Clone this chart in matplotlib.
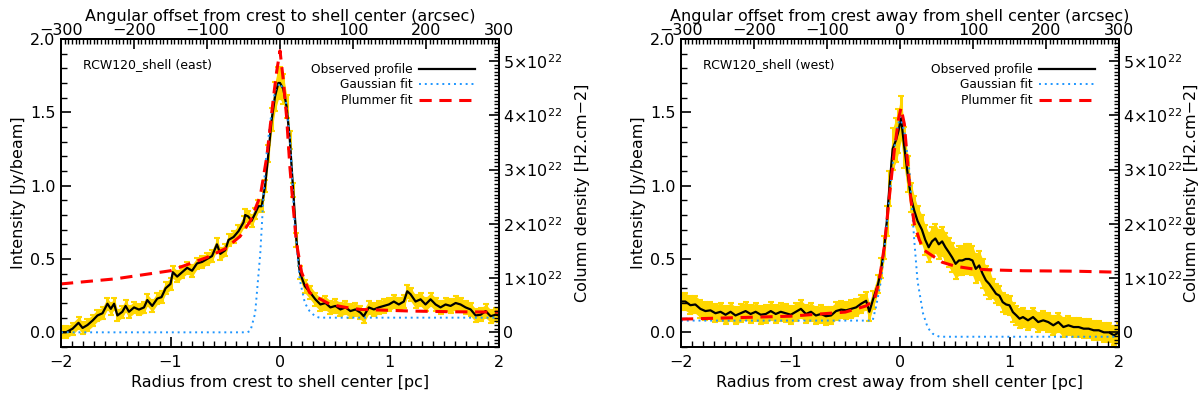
import numpy as np
import matplotlib
matplotlib.use("Agg")
import matplotlib.pyplot as plt
from matplotlib.ticker import MultipleLocator, FixedLocator, FixedFormatter, AutoMinorLocator

# ---- data (radius in pc, intensity in Jy/beam) ----
# east side: from crest to shell center
obs_x_east = [-2.00, -1.955, -1.894, -1.84, -1.803, -1.758, -1.712, -1.667, -1.621, -1.576,
              -1.545, -1.515, -1.485, -1.44, -1.41, -1.379, -1.333, -1.288, -1.242, -1.212,
              -1.167, -1.121, -1.082, -1.045, -1.00, -0.979, -0.939, -0.894, -0.848, -0.803,
              -0.758, -0.712, -0.667, -0.621, -0.576, -0.545, -0.50, -0.47, -0.424, -0.379,
              -0.333, -0.318, -0.29, -0.26, -0.227, -0.197, -0.167, -0.136, -0.106, -0.076,
              -0.045, -0.015, 0.00, 0.03, 0.06, 0.09, 0.12, 0.15, 0.18, 0.227,
              0.277, 0.323, 0.369, 0.415, 0.46, 0.506, 0.552, 0.598, 0.643, 0.689,
              0.735, 0.765, 0.811, 0.857, 0.902, 0.948, 0.994, 1.04, 1.085, 1.131,
              1.162, 1.192, 1.238, 1.284, 1.329, 1.375, 1.421, 1.466, 1.512, 1.558,
              1.604, 1.649, 1.695, 1.741, 1.787, 1.832, 1.878, 1.924, 1.97, 2.00]
obs_y_east = [0.00, 0.00, 0.025, 0.065, 0.03, 0.05, 0.08, 0.115, 0.13, 0.195,
              0.16, 0.195, 0.115, 0.14, 0.18, 0.14, 0.17, 0.155, 0.17, 0.22,
              0.18, 0.23, 0.24, 0.30, 0.33, 0.41, 0.38, 0.41, 0.44, 0.42,
              0.47, 0.48, 0.50, 0.52, 0.60, 0.535, 0.56, 0.63, 0.65, 0.69,
              0.75, 0.80, 0.79, 0.76, 0.81, 0.86, 0.86, 1.00, 1.22, 1.45,
              1.61, 1.70, 1.70, 1.66, 1.54, 1.31, 0.97, 0.63, 0.41, 0.315,
              0.27, 0.225, 0.19, 0.20, 0.17, 0.18, 0.156, 0.17, 0.145, 0.156,
              0.134, 0.11, 0.17, 0.156, 0.17, 0.18, 0.19, 0.21, 0.19, 0.21,
              0.28, 0.26, 0.21, 0.225, 0.19, 0.225, 0.19, 0.17, 0.19, 0.18,
              0.20, 0.19, 0.17, 0.156, 0.115, 0.12, 0.145, 0.11, 0.12, 0.115]
err_east = [0.04] * 48 + [0.06, 0.08, 0.10, 0.11, 0.11, 0.10, 0.08, 0.06] + [0.045] * 44

gauss_x_east = [-2.0, -0.30, -0.27, -0.227, -0.18, -0.136, -0.09, -0.045, 0.0,
                0.045, 0.09, 0.136, 0.18, 0.227, 0.27, 0.32, 0.36, 2.0]
gauss_y_east = [0.0, 0.0, 0.01, 0.13, 0.54, 1.13, 1.43, 1.65, 1.70,
                1.63, 1.34, 0.72, 0.36, 0.20, 0.145, 0.11, 0.10, 0.10]

plum_x_east = [-2.0, -1.5, -1.0, -0.67, -0.5, -0.364, -0.27, -0.18, -0.12, -0.06, -0.03, 0.0,
               0.03, 0.06, 0.09, 0.12, 0.15, 0.197, 0.27, 0.36, 0.46, 0.6, 0.735, 1.0, 1.2, 1.6, 2.0]
plum_y_east = [0.33, 0.365, 0.42, 0.51, 0.57, 0.655, 0.76, 0.93, 1.20, 1.60, 1.78, 1.92,
               1.72, 1.47, 1.13, 0.86, 0.61, 0.41, 0.27, 0.23, 0.19, 0.17, 0.156, 0.15, 0.145, 0.14, 0.138]

# west side: from crest away from shell center
obs_x_west = [-2.00, -1.96, -1.914, -1.869, -1.823, -1.777, -1.731, -1.685, -1.639, -1.593,
              -1.547, -1.502, -1.456, -1.41, -1.364, -1.318, -1.272, -1.226, -1.18, -1.135,
              -1.089, -1.043, -0.997, -0.951, -0.905, -0.859, -0.813, -0.768, -0.722, -0.676,
              -0.63, -0.584, -0.538, -0.492, -0.446, -0.401, -0.355, -0.309, -0.28, -0.248,
              -0.20, -0.17, -0.144, -0.12, -0.098, -0.067, -0.037, -0.015, 0.009, 0.04,
              0.07, 0.10, 0.13, 0.16, 0.20, 0.231, 0.262, 0.292, 0.323, 0.354,
              0.385, 0.415, 0.446, 0.477, 0.508, 0.538, 0.569, 0.60, 0.631, 0.662,
              0.692, 0.723, 0.754, 0.785, 0.815, 0.846, 0.877, 0.908, 0.938, 0.969,
              1.00, 1.031, 1.062, 1.092, 1.123, 1.169, 1.215, 1.262, 1.308, 1.354,
              1.40, 1.446, 1.492, 1.538, 1.585, 1.631, 1.677, 1.723, 1.769, 1.815,
              1.862, 1.908, 1.954, 2.00]
obs_y_west = [0.21, 0.21, 0.185, 0.19, 0.16, 0.145, 0.15, 0.13, 0.14, 0.12,
              0.14, 0.115, 0.13, 0.145, 0.125, 0.14, 0.12, 0.125, 0.145, 0.125,
              0.14, 0.13, 0.12, 0.14, 0.16, 0.125, 0.14, 0.115, 0.125, 0.11,
              0.115, 0.145, 0.155, 0.15, 0.16, 0.17, 0.195, 0.215, 0.14, 0.22,
              0.33, 0.44, 0.58, 0.76, 0.98, 1.25, 1.31, 1.37, 1.46, 1.26,
              1.08, 0.92, 0.83, 0.76, 0.70, 0.63, 0.58, 0.62, 0.64, 0.60,
              0.62, 0.58, 0.546, 0.51, 0.467, 0.49, 0.49, 0.50, 0.50, 0.49,
              0.433, 0.456, 0.40, 0.354, 0.33, 0.297, 0.263, 0.25, 0.206, 0.19,
              0.184, 0.138, 0.116, 0.093, 0.104, 0.082, 0.104, 0.07, 0.082, 0.07,
              0.048, 0.07, 0.036, 0.048, 0.036, 0.036, 0.025, 0.025, 0.014, 0.014,
              0.0, 0.0, -0.02, 0.0]
err_west = ([0.06] * 40 + [0.06, 0.07, 0.08, 0.10, 0.12, 0.14, 0.15, 0.15, 0.15]
            + [0.14, 0.12, 0.10, 0.10, 0.10] + [0.10] * 21 + [0.065] * 29)

gauss_x_west = [-2.0, -0.25, -0.22, -0.174, -0.128, -0.083, -0.037, 0.0, 0.04,
                0.086, 0.13, 0.16, 0.21, 0.254, 0.30, 0.36, 2.0]
gauss_y_west = [0.08, 0.08, 0.17, 0.35, 0.67, 1.03, 1.35, 1.47, 1.37,
                1.10, 0.63, 0.35, 0.13, 0.03, -0.01, -0.03, -0.03]

plum_x_west = [-2.0, -1.0, -0.5, -0.31, -0.235, -0.19, -0.144, -0.098, -0.052, -0.012, 0.009,
               0.04, 0.07, 0.10, 0.13, 0.177, 0.22, 0.30, 0.385, 0.508, 0.66, 0.815, 1.12, 1.585, 2.0]
plum_y_west = [0.09, 0.11, 0.138, 0.18, 0.22, 0.35, 0.58, 0.92, 1.24, 1.46, 1.53,
               1.42, 1.15, 0.90, 0.74, 0.63, 0.56, 0.52, 0.478, 0.45, 0.433, 0.426, 0.42, 0.417, 0.41]

panels = [
    dict(obs_x=obs_x_east, obs_y=obs_y_east, err=err_east,
         gx=gauss_x_east, gy=gauss_y_east, px=plum_x_east, py=plum_y_east,
         name="RCW120_shell (east)",
         top="Angular offset from crest to shell center (arcsec)",
         bottom="Radius from crest to shell center [pc]"),
    dict(obs_x=obs_x_west, obs_y=obs_y_west, err=err_west,
         gx=gauss_x_west, gy=gauss_y_west, px=plum_x_west, py=plum_y_west,
         name="RCW120_shell (west)",
         top="Angular offset from crest away from shell center (arcsec)",
         bottom="Radius from crest away from shell center [pc]"),
]

ARCSEC_PER_PC = 150.0
JY_PER_1E22 = 0.37       # intensity corresponding to N(H2) = 1e22 cm^-2
arcsec_ticks = [-300, -200, -100, 0, 100, 200, 300]
cd_ticks = [0, 1, 2, 3, 4, 5]
cd_labels = ["0"] + [r"$%d{\times}10^{22}$" % v for v in cd_ticks[1:]]

TICK_FS = 11.5
LAB_FS = 11.5

plt.rcParams['font.family'] = ['DejaVu Sans']
plt.rcParams['axes.linewidth'] = 1.3

fig = plt.figure(figsize=(12, 3.98), dpi=100)
lefts = [61 / 1200, 681 / 1200]
right_pads = [9, 1]   # second panel's label sits at the figure edge

for left, rpad, p in zip(lefts, right_pads, panels):
    ax = fig.add_axes([left, 51 / 398, 438 / 1200, 308 / 398])

    x = np.array(p['obs_x'])
    y = np.array(p['obs_y'])
    e = np.array(p['err'])
    ax.fill_between(x, y - e, y + e, color='gold', lw=0, zorder=1)
    ax.errorbar(x, y, yerr=e, fmt='none', ecolor='gold', elinewidth=2.2,
                capsize=2, capthick=1.5, zorder=1)
    ax.plot(x, y, color='black', lw=1.6, zorder=3, label='Observed profile')
    ax.plot(p['gx'], p['gy'], color='#1e96ff', lw=1.4, ls=(0, (1, 2)), zorder=4,
            label='Gaussian fit')
    ax.plot(p['px'], p['py'], color='red', lw=2.2, ls=(0, (4, 2.5)), zorder=5,
            label='Plummer fit')

    ax.set_xlim(-2, 2)
    ax.set_ylim(-0.1, 2.0)
    ax.xaxis.set_major_locator(MultipleLocator(1))
    ax.xaxis.set_minor_locator(MultipleLocator(0.1))
    ax.yaxis.set_major_locator(MultipleLocator(0.5))
    ax.yaxis.set_minor_locator(MultipleLocator(0.1))
    ax.yaxis.set_major_formatter(matplotlib.ticker.FormatStrFormatter('%.1f'))
    ax.tick_params(which='both', direction='in', labelsize=TICK_FS, top=False, right=False)
    ax.tick_params(which='major', length=7, width=1.2)
    ax.tick_params(which='minor', length=4, width=1.0)
    ax.tick_params(axis='x', pad=6)
    ax.tick_params(axis='y', pad=4)
    ax.set_xlabel(p['bottom'], fontsize=LAB_FS, labelpad=3)
    ax.set_ylabel("Intensity [Jy/beam]", fontsize=LAB_FS, labelpad=3)

    # top axis in arcsec
    sec = ax.secondary_xaxis('top', functions=(lambda v: v * ARCSEC_PER_PC,
                                               lambda v: v / ARCSEC_PER_PC))
    sec.xaxis.set_major_locator(FixedLocator(arcsec_ticks))
    sec.xaxis.set_minor_locator(MultipleLocator(5))
    sec.tick_params(which='both', direction='in', labelsize=TICK_FS, pad=1)
    sec.tick_params(which='major', length=7, width=1.2)
    sec.tick_params(which='minor', length=3.5, width=1.0)
    sec.set_xlabel(p['top'], fontsize=LAB_FS, labelpad=1)

    # right axis in column density
    ax2 = ax.twinx()
    ax2.set_ylim(-0.1 / JY_PER_1E22, 2.0 / JY_PER_1E22)
    ax2.yaxis.set_major_locator(FixedLocator(cd_ticks))
    ax2.yaxis.set_major_formatter(FixedFormatter(cd_labels))
    ax2.yaxis.set_minor_locator(AutoMinorLocator(15))
    ax2.tick_params(which='both', direction='in', labelsize=TICK_FS, pad=3)
    ax2.tick_params(which='major', length=7, width=1.2)
    ax2.tick_params(which='minor', length=3.5, width=1.0)
    ax2.set_ylabel("Column density [H2.cm\u22122]", fontsize=LAB_FS, labelpad=rpad)

    ax.text(0.05, 0.905, p['name'], transform=ax.transAxes, fontsize=9)
    ax.legend(loc='upper right', bbox_to_anchor=(0.965, 0.95), frameon=False,
              markerfirst=False, fontsize=8.8, handlelength=4.6,
              labelspacing=0.2, handletextpad=0.5, borderpad=0.2)

fig.savefig('out.png', dpi=100)
